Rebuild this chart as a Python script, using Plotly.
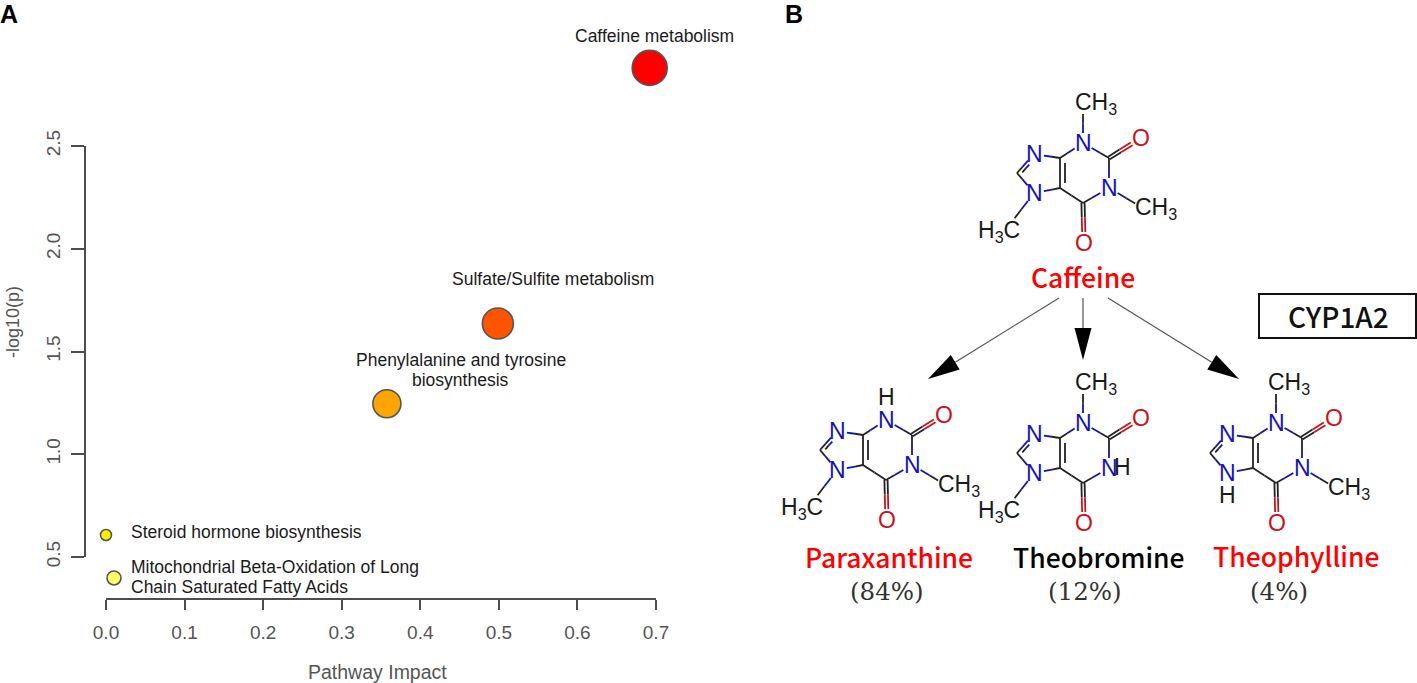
import plotly.graph_objects as go

# ---------- Panel A data ----------
pathways = ["Caffeine metabolism", "Sulfate/Sulfite metabolism", "Phenylalanine and tyrosine biosynthesis",
            "Steroid hormone biosynthesis", "Mitochondrial Beta-Oxidation of Long Chain Saturated Fatty Acids"]
impact = [0.692, 0.4987, 0.3575, 0.0, 0.0102]
log_p = [2.88, 1.636, 1.246, 0.607, 0.398]
bubble = [35, 31, 28, 11, 14]
bubble_colors = ["#ff0000", "#ff5500", "#ffa500", "#ffee00", "#ffff66"]
x_ticks = [0, 0.1, 0.2, 0.3, 0.4, 0.5, 0.6, 0.7]
y_ticks = [0.5, 1.0, 1.5, 2.0, 2.5]
label_lines = ["Caffeine metabolism", "Sulfate/Sulfite metabolism", "Phenylalanine and tyrosine", "biosynthesis",
               "Steroid hormone biosynthesis", "Mitochondrial Beta-Oxidation of Long", "Chain Saturated Fatty Acids"]
label_x = [0.698, 0.569, 0.4517, 0.4517, 0.0293, 0.0293, 0.0293]
label_y = [3.035, 1.853, 1.457, 1.359, 0.622, 0.452, 0.355]
label_anchor = ["center", "center", "center", "center", "left", "left", "left"]

# ---------- Panel B diagram (pixel frame of the caffeine structure) ----------
atoms = {"N3": (1083, 143), "C2": (1109, 158), "O2": (1141, 138), "N1": (1109, 188), "C6": (1083, 203),
         "O6": (1084, 243), "C5": (1060, 188), "C4": (1060, 158), "N9": (1034, 154), "C8": (1017, 173),
         "N7": (1034, 193), "Me3": (1083, 113), "Me1": (1136, 204), "Me7": (1014, 219)}
single_bonds = [("N3", "C2"), ("C2", "N1"), ("N1", "C6"), ("C6", "C5"), ("C4", "N3"), ("C4", "N9"),
                ("C8", "N7"), ("N7", "C5")]
molecules = [
    {"name": "Caffeine", "dx": 0, "dy": 0, "color": "#ff0000", "share": None,
     "Me": ["Me3", "Me1", "Me7"], "H": []},
    {"name": "Paraxanthine", "dx": -197, "dy": 277, "color": "#ff0000", "share": "(84%)",
     "Me": ["Me1", "Me7"], "H": [(1083, 120)]},
    {"name": "Theobromine", "dx": 0, "dy": 280, "color": "#000000", "share": "(12%)",
     "Me": ["Me3", "Me7"], "H": [(1122, 187)]},
    {"name": "Theophylline", "dx": 193, "dy": 280, "color": "#ff0000", "share": "(4%)",
     "Me": ["Me3", "Me1"], "H": [(1034, 215)]},
]
name_y = [276, 556, 556, 555]
name_x = [1083, 889, 1099, 1296]
share_y = [None, 591, 591, 591]
share_x = [None, 887, 1085, 1279]
methyl_text = {"Me3": ("CH<sub>3</sub>", 1096, 103), "Me1": ("CH<sub>3</sub>", 1156, 208), "Me7": ("H<sub>3</sub>C", 999, 231)}
arrows = [((1059, 298), (928, 379)), ((1083, 298), (1083, 360)), ((1108, 298), (1239, 379))]

BLUE, DARK, RED = "#1414b4", "#222222", "#c8141e"
AXIS = "#4d4d4d"
SANS = "Liberation Sans, Arial, sans-serif"
CJK = "Noto Sans CJK JP, Noto Sans, sans-serif"

W, H = 1417, 683
# pixel geometry of the R-style axes of panel A
X0, X7 = 106.0, 656.0
Y05, Y25 = 557.0, 146.0
Y_AXIS_X, X_AXIS_Y = 86.0, 598.0
per_unit = (Y05 - Y25) / 2.0

fig = go.Figure()
fig.add_trace(go.Scatter(x=impact, y=log_p, mode="markers", cliponaxis=False, hovertext=pathways,
                         marker=dict(size=bubble, color=bubble_colors, opacity=1,
                                     line=dict(color="#555555", width=1.6)),
                         showlegend=False, xaxis="x", yaxis="y"))
# invisible traces activate the pixel-frame axes of panel B and the tick axis of panel A
fig.add_trace(go.Scatter(x=[0], y=[0], mode="markers", marker=dict(opacity=0), showlegend=False,
                         xaxis="x2", yaxis="y2", hoverinfo="skip"))
fig.add_trace(go.Scatter(x=[0], y=[0.5], mode="markers", marker=dict(opacity=0), showlegend=False,
                         xaxis="x3", yaxis="y3", hoverinfo="skip"))

shapes, notes = [], []


def seg(p, q, color, width=1.8):
    shapes.append(dict(type="line", xref="x2", yref="y2", x0=p[0], y0=p[1], x1=q[0], y1=q[1],
                       line=dict(color=color, width=width)))


def trim(p, q, a, b):
    L = ((q[0]-p[0])**2 + (q[1]-p[1])**2)**0.5
    ux, uy = (q[0]-p[0])/L, (q[1]-p[1])/L
    return (p[0]+ux*a, p[1]+uy*a), (q[0]-ux*b, q[1]-uy*b)


def tone(n):
    return BLUE if n[0] == "N" else (RED if n[0] == "O" else DARK)


def bond(mol, a, b, off=0.0, ta=None, tb=None):
    pa, pb = atoms[a], atoms[b]
    L = ((pb[0]-pa[0])**2 + (pb[1]-pa[1])**2)**0.5
    nx, ny = -(pb[1]-pa[1])/L*off, (pb[0]-pa[0])/L*off
    pa = (pa[0]+mol["dx"]+nx, pa[1]+mol["dy"]+ny)
    pb = (pb[0]+mol["dx"]+nx, pb[1]+mol["dy"]+ny)
    ta = (10 if a[0] in "NO" else 0) if ta is None else ta
    tb = (10 if b[0] in "NOM" else 0) if tb is None else tb
    p, q = trim(pa, pb, ta, tb)
    m = ((p[0]+q[0])/2, (p[1]+q[1])/2)
    seg(p, m, tone(a))
    seg(m, q, tone(b))


def txt(x, y, s, size, color, font=SANS, anchor="center", xref="x2", yref="y2", weight=None):
    f = dict(size=size, color=color, family=font)
    if weight:
        f["weight"] = weight
    notes.append(dict(x=x, y=y, xref=xref, yref=yref, text=s, showarrow=False, xanchor=anchor, yanchor="middle",
                      font=f))


for i, mol in enumerate(molecules):
    dx, dy = mol["dx"], mol["dy"]
    for a, b in single_bonds:
        bond(mol, a, b)
    bond(mol, "C4", "C5", 0)
    bond(mol, "C4", "C5", -5, 5, 5)
    bond(mol, "N9", "C8", 0, 9, 0)
    bond(mol, "N9", "C8", -3.5, 11, 4)
    for off in (-1.6, 1.6):
        bond(mol, "C2", "O2", off, 0, 11)
        bond(mol, "C6", "O6", off, 0, 11)
    for me in mol["Me"]:
        root = {"Me3": "N3", "Me1": "N1", "Me7": "N7"}[me]
        bond(mol, root, me, 0, 10, 1)
        s, x, y = methyl_text[me]
        txt(x+dx, y+dy, s, 23, "#1a1a1a")
    for hx, hy in mol["H"]:
        txt(hx+dx, hy+dy, "H", 23, "#1a1a1a")
    for atom in ("N3", "N1", "N9", "N7"):
        txt(atoms[atom][0]+dx, atoms[atom][1]+dy, "N", 23, BLUE)
    for atom in ("O2", "O6"):
        txt(atoms[atom][0]+dx, atoms[atom][1]+dy, "O", 23, RED)
    txt(name_x[i], name_y[i], mol["name"], 26.5, mol["color"], CJK, weight=500)
    if mol["share"]:
        txt(share_x[i], share_y[i], mol["share"], 24.5, "#333333", "DejaVu Serif, serif")

# reaction arrows
for p, q in arrows:
    L = ((q[0]-p[0])**2 + (q[1]-p[1])**2)**0.5
    ux, uy = (q[0]-p[0])/L, (q[1]-p[1])/L
    bx, by = q[0]-ux*32, q[1]-uy*32
    seg(p, (bx, by), "#555555", 1.2)
    path = f"M {q[0]} {q[1]} L {bx-uy*8.5} {by+ux*8.5} L {bx+uy*8.5} {by-ux*8.5} Z"
    shapes.append(dict(type="path", xref="x2", yref="y2", path=path, fillcolor="#000000", line=dict(width=0)))

# CYP1A2 box
shapes.append(dict(type="rect", xref="x2", yref="y2", x0=1259, y0=294, x1=1416, y1=338,
                   line=dict(color="#111111", width=2), fillcolor="white", layer="below"))
txt(1338, 316, "CYP1A2", 28, "#111111", CJK, weight=500)

# panel A texts
for s, x, y, a in zip(label_lines, label_x, label_y, label_anchor):
    txt(x, y, s, 17.5, "#1a1a1a", SANS, a, "x", "y")
txt(377, 672, "Pathway Impact", 19.5, "#555555")
notes.append(dict(x=13, y=322, xref="x2", yref="y2", text="-log10(p)", showarrow=False, textangle=-90,
                  font=dict(size=18, color="#555555", family=SANS)))
txt(9, 14, "<b>A</b>", 25, "#000000")
txt(794, 14, "<b>B</b>", 25, "#000000")

tick_font = dict(size=19, color="#555555", family=SANS)
fig.update_layout(
    width=W, height=H, margin=dict(l=0, r=0, t=0, b=0, autoexpand=False), autosize=False,
    paper_bgcolor="white", plot_bgcolor="rgba(0,0,0,0)", shapes=shapes, annotations=notes, showlegend=False,
    # visible x axis; its hidden y partner reaches down to the x-axis line and up to the page top
    xaxis=dict(domain=[X0/W, X7/W], range=[0, 0.7], anchor="y", tickvals=x_ticks, tickformat=".1f", showgrid=False,
               zeroline=False, showline=True, linecolor=AXIS, linewidth=1.5, ticks="outside", ticklen=10,
               tickwidth=1.5, tickcolor=AXIS, ticklabelstandoff=6, tickfont=tick_font),
    yaxis=dict(domain=[1-X_AXIS_Y/H, 1], range=[0.5-(X_AXIS_Y-Y05)/per_unit, 0.5+Y05/per_unit], anchor="x",
               visible=False),
    xaxis2=dict(domain=[0, 1], range=[0, W], visible=False, anchor="y2"),
    yaxis2=dict(domain=[0, 1], range=[H, 0], visible=False, anchor="x2"),
    # visible y axis spanning only its ticks, set off to the left of the x axis
    xaxis3=dict(domain=[Y_AXIS_X/W, X7/W], range=[0, 1], visible=False, anchor="y3"),
    yaxis3=dict(domain=[1-Y05/H, 1-Y25/H], range=[0.5, 2.5], anchor="x3", tickvals=y_ticks, tickformat=".1f",
                tickangle=-90, showgrid=False, zeroline=False, showline=True, linecolor=AXIS, linewidth=1.5,
                ticks="outside", ticklen=13, tickwidth=1.5, tickcolor=AXIS, ticklabelstandoff=4, tickfont=tick_font),
)
fig.write_html("out.html", config=dict(displayModeBar=False),
               post_script="document.body.style.margin='0';document.body.style.overflow='hidden';")
